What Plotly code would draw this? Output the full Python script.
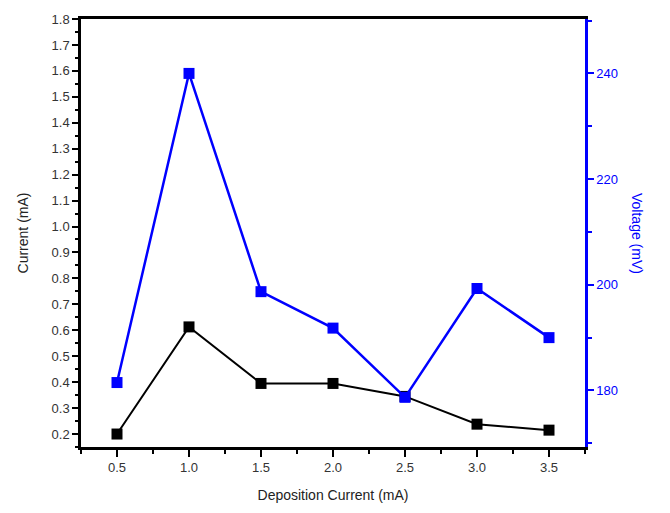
import plotly.graph_objects as go

deposition_current = [0.5, 1.0, 1.5, 2.0, 2.5, 3.0, 3.5]
current_mA = [0.20, 0.613, 0.395, 0.395, 0.345, 0.238, 0.215]
voltage_mV = [181.5, 240.0, 198.7, 191.8, 178.7, 199.3, 190.0]

x_ticks = [0.5, 1.0, 1.5, 2.0, 2.5, 3.0, 3.5]
x_tick_labels = ["0.5", "1.0", "1.5", "2.0", "2.5", "3.0", "3.5"]
left_ticks = [0.2, 0.3, 0.4, 0.5, 0.6, 0.7, 0.8, 0.9, 1.0, 1.1, 1.2, 1.3, 1.4, 1.5, 1.6, 1.7, 1.8]
left_tick_labels = [f"{v:.1f}" for v in left_ticks]
right_ticks = [180, 200, 220, 240]

BLUE = "#0000FF"
FONT = "Liberation Sans, Arial, sans-serif"
GRAY = "#333333"

fig = go.Figure()
fig.add_trace(go.Scatter(
    x=deposition_current, y=current_mA, mode="lines+markers",
    line=dict(color="black", width=2),
    marker=dict(symbol="square", size=11, color="black"),
    yaxis="y", showlegend=False,
))
fig.add_trace(go.Scatter(
    x=deposition_current, y=voltage_mV, mode="lines+markers",
    line=dict(color=BLUE, width=2.5),
    marker=dict(symbol="square", size=11, color=BLUE),
    yaxis="y2", showlegend=False,
))

fig.update_layout(
    width=670, height=513,
    margin=dict(l=81, r=85, t=14, b=66),
    paper_bgcolor="white", plot_bgcolor="white",
    font=dict(family=FONT, color=GRAY, size=13),
    xaxis=dict(
        range=[0.25, 3.75], tickvals=x_ticks, ticktext=x_tick_labels,
        showline=True, linecolor="black", linewidth=2.5, mirror=True,
        ticks="outside", ticklen=7, tickwidth=2, tickcolor="black",
        minor=dict(dtick=0.25, tick0=0.25, ticks="outside", ticklen=4, tickwidth=2, tickcolor="black"),
        showgrid=False, zeroline=False,
        title=dict(text="Deposition Current (mA)", font=dict(size=14, color="#222222"), standoff=16),
        tickfont=dict(size=13, color=GRAY),
    ),
    yaxis=dict(
        range=[0.15, 1.8], tickvals=left_ticks, ticktext=left_tick_labels,
        showline=True, linecolor="black", linewidth=2.5,
        ticks="outside", ticklen=6, tickwidth=2, tickcolor="black",
        minor=dict(dtick=0.05, tick0=0.15, ticks="outside", ticklen=3, tickwidth=1.5, tickcolor="black"),
        showgrid=False, zeroline=False,
        title=dict(text="Current (mA)", font=dict(size=14, color="#222222"), standoff=20),
        tickfont=dict(size=13, color=GRAY),
    ),
    yaxis2=dict(
        overlaying="y", side="right", anchor="x",
        range=[169.3, 250.3], tickvals=right_ticks,
        showline=True, linecolor=BLUE, linewidth=2.5,
        ticks="outside", ticklen=6, tickwidth=2, tickcolor=BLUE,
        minor=dict(dtick=10, tick0=170, ticks="outside", ticklen=4, tickwidth=2, tickcolor=BLUE),
        showgrid=False, zeroline=False,
        tickfont=dict(size=13, color=BLUE),
    ),
    annotations=[dict(
        text="Voltage (mV)", xref="paper", yref="paper", x=1.0, y=0.5,
        xshift=62, showarrow=False, textangle=90,
        font=dict(size=14, color=BLUE, family=FONT),
    )],
)

fig.write_html("out.html")
